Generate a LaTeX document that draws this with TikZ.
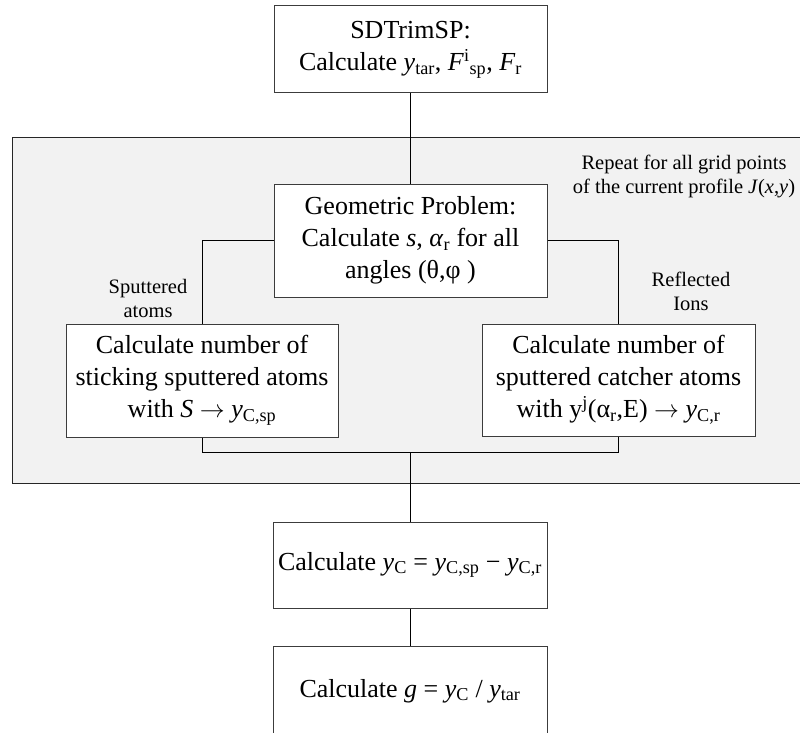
\documentclass[tikz,border=0pt]{standalone}
\usepackage{fontspec}
\setmainfont{Liberation Serif}
\newcommand\myit[1]{\textit{#1}}
\newcommand\mysb[1]{\textsubscript{#1}}
\newcommand\mysp[1]{\textsuperscript{#1}}
\newcommand\myarrow{\ensuremath{\rightarrow}}
\definecolor{panelgray}{RGB}{242,242,242}
\definecolor{boxline}{RGB}{60,60,60}
\begin{document}
\begin{tikzpicture}[x=1pt,y=-1pt,
  box/.style={draw=boxline,line width=1pt,fill=white,rectangle,align=center,inner sep=0pt,
    font=\fontsize{26}{32}\selectfont},
  lbl/.style={align=center,inner sep=0pt,font=\fontsize{20.5}{24}\selectfont},
  conn/.style={draw=black,line width=1pt}]
\useasboundingbox (0,0) rectangle (800,733);
\fill[panelgray] (12,138) rectangle (806,483);
\draw[line width=1pt,black!85] (806,138) -- (12,138) -- (12,483) -- (806,483);

\node[box,minimum width=273pt,minimum height=87pt] (top) at (410.5,49.5)
  {SDTrimSP:\\Calculate \myit{y}\mysb{tar}, \myit{F}\mysp{i}\mysb{sp}, \myit{F}\mysb{r}};
\node[box,minimum width=273pt,minimum height=113pt] (geom) at (410.5,240.5)
  {Geometric Problem:\\Calculate \myit{s}, \myit{α}\mysb{r} for all\\angles (θ,φ )};
\node[box,minimum width=272pt,minimum height=113pt] (left) at (202,380.5)
  {Calculate number of\\sticking sputtered atoms\\with \myit{S} \myarrow\ \myit{y}\mysb{C,sp}};
\node[box,minimum width=273pt,minimum height=112pt] (right) at (618.5,380)
  {Calculate number of\\sputtered catcher atoms\\with y\mysp{j}(α\mysb{r},E) \myarrow\ \myit{y}\mysb{C,r}};
\node[box,minimum width=274pt,minimum height=86pt] (diff) at (410,565)
  {Calculate \myit{y}\mysb{C} = \myit{y}\mysb{C,sp} − \myit{y}\mysb{C,r}};
\node[box,minimum width=274pt,minimum height=90pt] (ratio) at (410,691)
  {Calculate \myit{g} = \myit{y}\mysb{C} / \myit{y}\mysb{tar}};

\node[lbl] (lsp) at (148,298) {Sputtered\\atoms};
\node[lbl] (lrf) at (691,291) {Reflected\\Ions};
\node[lbl] (lrep) at (684,176) {Repeat for all grid points\\of the current profile \myit{J}(\myit{x},\myit{y})};

\coordinate (join) at (410,452);
\draw[conn] (top.south) -- (geom.north);
\draw[conn] (geom.west) -| (left.north);
\draw[conn] (geom.east) -| (right.north);
\draw[conn] (left.south) |- (join);
\draw[conn] (right.south) |- (join);
\draw[conn] (join) -- (diff.north);
\draw[conn] (diff.south) -- (ratio.north);
\end{tikzpicture}
\end{document}
